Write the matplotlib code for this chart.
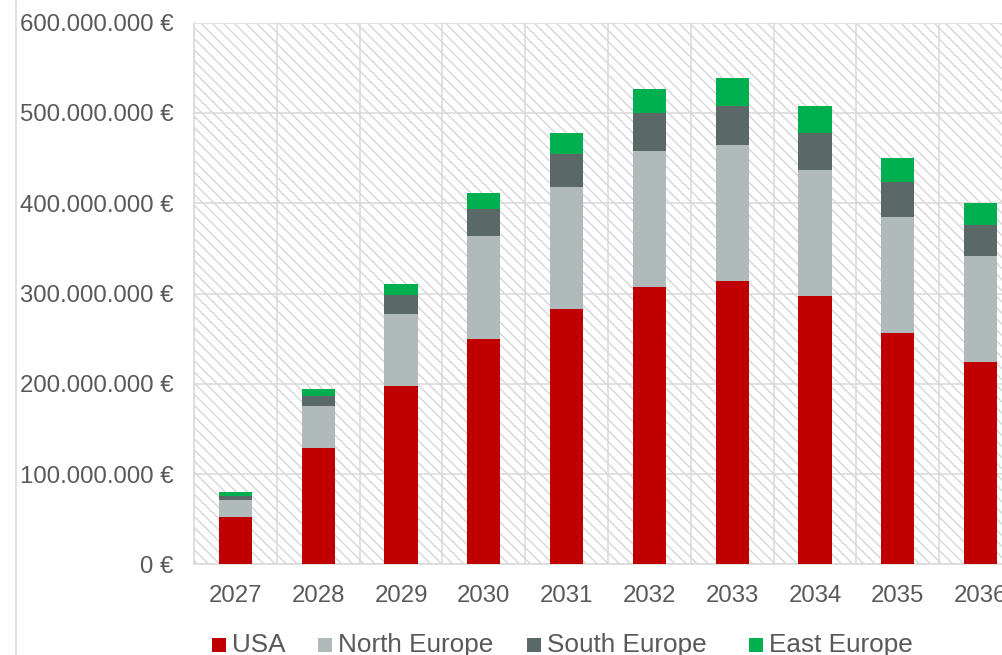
import matplotlib
matplotlib.use("Agg")
import matplotlib.pyplot as plt
from matplotlib.patches import Rectangle
from matplotlib.lines import Line2D
from matplotlib.ticker import FuncFormatter, FixedLocator
import numpy as np

# Revenue per region and year, in million euros
years = ["2027", "2028", "2029", "2030", "2031", "2032", "2033", "2034", "2035", "2036"]
usa = [52, 129, 198, 250, 283, 307, 314, 297, 256, 224]
north_europe = [19, 46, 79, 114, 135, 151, 150, 140, 129, 117]
south_europe = [5, 12, 21, 30, 37, 42, 44, 41, 39, 35]
east_europe = [4, 7, 12, 17, 23, 27, 31, 30, 26, 24]
series_names = ["USA", "North Europe", "South Europe", "East Europe"]
y_ticks = [0, 100, 200, 300, 400, 500, 600]

colors = ["#C00000", "#B0BABA", "#5B6868", "#00B050"]
text_color = "#595959"
grid_color = "#D9D9D9"

W, H = 1003, 655
plt.rcParams["font.family"] = ["Liberation Sans", "DejaVu Sans"]
plt.rcParams["hatch.linewidth"] = 1.0

fig = plt.figure(figsize=(W / 100, H / 100), dpi=100)
fig.patch.set_facecolor("white")


def fx(x):
    return x / W


def fy(y):
    return 1 - y / H


ax_left, ax_right, ax_top, ax_bottom = 194, 1022, 22.7, 564.3
ax = fig.add_axes([fx(ax_left), fy(ax_bottom), fx(ax_right - ax_left), (ax_bottom - ax_top) / H])
ax.set_facecolor("white")

# hatched plot background
ax.add_patch(Rectangle((0, 0), 1, 1, transform=ax.transAxes, facecolor="none",
                       edgecolor="#D6D6D6", hatch="\\\\\\", linewidth=0, zorder=0))

x = np.arange(len(years))
scale = 1e6
bottom = np.zeros(len(years))
for name, vals, col in zip(series_names, [usa, north_europe, south_europe, east_europe], colors):
    v = np.array(vals, dtype=float) * scale
    ax.bar(x, v, width=0.4, bottom=bottom, color=col, linewidth=0, zorder=3, label=name)
    bottom += v

ax.set_xlim(-0.5, len(years) - 0.5)
ax.set_ylim(0, 600 * scale)

ax.yaxis.set_major_locator(FixedLocator([t * scale for t in y_ticks]))


def euro(v, pos):
    s = f"{int(round(v)):,}".replace(",", ".")
    return f"{s} €"


ax.yaxis.set_major_formatter(FuncFormatter(euro))
ax.set_xticks(x)
ax.set_xticklabels(years)
ax.xaxis.set_minor_locator(FixedLocator(np.arange(-0.5, len(years), 1.0)))

ax.tick_params(axis="both", which="both", length=0, colors=text_color, labelsize=17.3)
ax.tick_params(axis="y", pad=15)
ax.tick_params(axis="x", pad=15)

ax.grid(axis="y", which="major", color=grid_color, linewidth=1.1, zorder=1)
ax.grid(axis="x", which="minor", color=grid_color, linewidth=1.1, zorder=1)
ax.grid(axis="x", which="major", visible=False)
ax.set_axisbelow(True)

for side in ["top", "right"]:
    ax.spines[side].set_visible(False)
for side in ["left", "bottom"]:
    ax.spines[side].set_color(grid_color)
    ax.spines[side].set_linewidth(1.1)

# chart area border on the left
fig.add_artist(Line2D([fx(16), fx(16)], [0, 1], transform=fig.transFigure,
                      color=grid_color, linewidth=1.1))

# legend row along the bottom
legend_marks = [212, 318, 527, 749]
sq = 14
base_y = 652
for name, col, mx in zip(series_names, colors, legend_marks):
    fig.add_artist(Rectangle((fx(mx), fy(base_y)), sq / W, sq / H, transform=fig.transFigure,
                             facecolor=col, edgecolor="none"))
    fig.text(fx(mx + 20), fy(base_y), name, color=text_color, fontsize=18.8,
             ha="left", va="baseline")

fig.savefig("out.png", dpi=100, facecolor="white")
